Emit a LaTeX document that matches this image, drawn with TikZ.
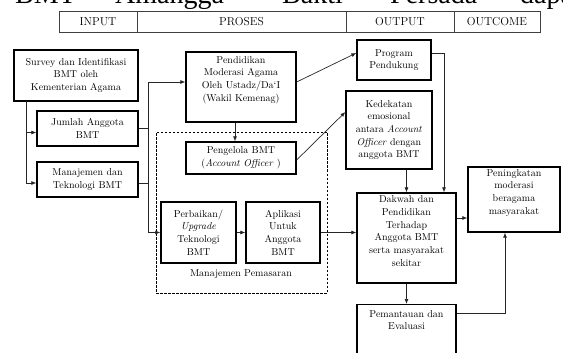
\documentclass[tikz,border=0pt]{standalone}
\usepackage{fontspec}
\newfontfamily\topfont{Liberation Serif}
\usetikzlibrary{arrows.meta,calc}
\begin{document}
\begin{tikzpicture}[x=1pt,y=-1pt,
  box/.style={draw, line width=1.3pt, align=center, inner sep=0pt, font=\fontsize{10}{12.7}\selectfont},
  plain/.style={inner sep=0pt, align=center, font=\fontsize{10}{12.7}\selectfont},
  hcell/.style={draw=black!75, line width=0.6pt, inner sep=0pt, font=\fontsize{11.5}{13}\selectfont},
  topword/.style={anchor=base west, inner sep=0pt, font=\topfont\fontsize{28}{30}\selectfont},
  conn/.style={line width=0.7pt, draw=black!85},
  arr/.style={conn, -{Latex[length=5pt,width=4pt]}},
  dashbox/.style={draw, dash pattern=on 2.5pt off 1.5pt, line width=0.6pt, inner sep=0pt}
]
\useasboundingbox (0,0) rectangle (563,353);
\clip (0,0) rectangle (563,353);

% clipped line of text above
\node[topword] (w1) at (15,4) {BMT};
\node[topword] (w2) at (115,4) {Amangga};
\node[topword] (w3) at (282,4) {Bakti};
\node[topword] (w4) at (390,4) {Persada};
\node[topword] (w5) at (520,4) {dapat};

% header
\node[hcell, minimum width=78pt, minimum height=21pt] (hin) at (98,21.5) {INPUT};
\node[hcell, minimum width=209pt, minimum height=21pt] (hpr) at (241.5,21.5) {PROSES};
\node[hcell, minimum width=108pt, minimum height=21pt] (hout) at (400,21.5) {OUTPUT};
\node[hcell, minimum width=86pt, minimum height=21pt] (hoc) at (497,21.5) {OUTCOME};

% dashed group
\node[dashbox, minimum width=171pt, minimum height=161pt] (mpbox) at (241.5,212.5) {};
\node[plain] (mp) at (241,274) {Manajemen Pemasaran};

% boxes
\node[box, minimum width=124pt, minimum height=51pt] (survey) at (76,75.5) {Survey dan Identifikasi\\BMT oleh\\Kementerian Agama};
\node[box, minimum width=101pt, minimum height=35pt] (jumlah) at (87.5,128.5) {Jumlah Anggota\\BMT};
\node[box, minimum width=101pt, minimum height=35pt] (manaj) at (87.5,179.5) {Manajemen dan\\Teknologi BMT};
\node[box, minimum width=110pt, minimum height=70pt] (pend) at (241,87) {Pendidikan\\Moderasi Agama\\Oleh Ustadz/Da`I\\(Wakil Kemenag)\\[4pt]};
\node[box, minimum width=110pt, minimum height=32pt] (peng) at (241,158) {Pengelola BMT\\(\textit{Account Officer} )};
\node[box, minimum width=75pt, minimum height=61pt] (perb) at (198.5,232.5) {Perbaikan/\\\textit{Upgrade}\\Teknologi\\BMT};
\node[box, minimum width=74pt, minimum height=61pt] (apl) at (283,232.5) {Aplikasi\\Untuk\\Anggota\\BMT};
\node[box, minimum width=74pt, minimum height=40pt] (prog) at (394,60) {Program\\Pendukung};
\node[box, minimum width=86pt, minimum height=78pt] (ked) at (389,130) {Kedekatan\\emosional\\antara \textit{Account}\\\textit{Officer} dengan\\anggota BMT};
\node[box, minimum width=99pt, minimum height=90pt] (dak) at (406.5,238) {Dakwah dan\\Pendidikan\\Terhadap\\Anggota BMT\\serta masyarakat\\sekitar\\[1pt]};
\node[box, minimum width=99pt, minimum height=70pt, anchor=north] (pem) at (406.5,304) {};
\node[plain, anchor=north] (pemt) at ($(pem.north)+(0,6)$) {Pemantauan dan\\Evaluasi};
\node[box, minimum width=92pt, minimum height=65pt] (pen) at (514,199.5) {Peningkatan\\moderasi\\beragama\\masyarakat\\[3pt]};

% connectors
\coordinate (lx) at (26,101);
\draw[conn] (survey.south -| lx) -- (lx);
\draw[arr] (lx) |- ([yshift=-4pt]jumlah.west);
\draw[arr] (lx) |- ([yshift=-3.5pt]manaj.west);

\coordinate (bus) at (148,82);
\draw[conn] (jumlah.east) -- (jumlah.east -| bus);
\draw[conn] ([yshift=-3.5pt]manaj.east) -- ([yshift=-3.5pt]manaj.east -| bus);
\draw[arr] (bus) -- (bus -| pend.west);
\draw[arr] (bus) |- (perb.west);

\draw[arr] ([xshift=-6pt]pend.south) -- ([xshift=-6pt]peng.north);
\draw[arr] ([yshift=5pt]pend.east) -- ([yshift=7pt]prog.west);
\draw[arr] ([yshift=-2pt]peng.east) -- ([yshift=18pt]ked.west);
\draw[arr] (perb.east) -- (apl.west);
\draw[arr] (apl.east) -- (apl.east -| dak.west);
\draw[arr] ([yshift=7pt]prog.east) -| ([xshift=37.5pt]dak.north);
\draw[arr] (ked.south -| dak.north) -- (dak.north);
\draw[arr] ([yshift=-18.5pt]pen.west -| dak.east) -- ([yshift=-18.5pt]pen.west);
\draw[arr] (dak.south) -- (pem.north);
\draw[arr] ([yshift=-9pt]pem.north east) -| ([xshift=-9pt]pen.south);
\end{tikzpicture}
\end{document}
